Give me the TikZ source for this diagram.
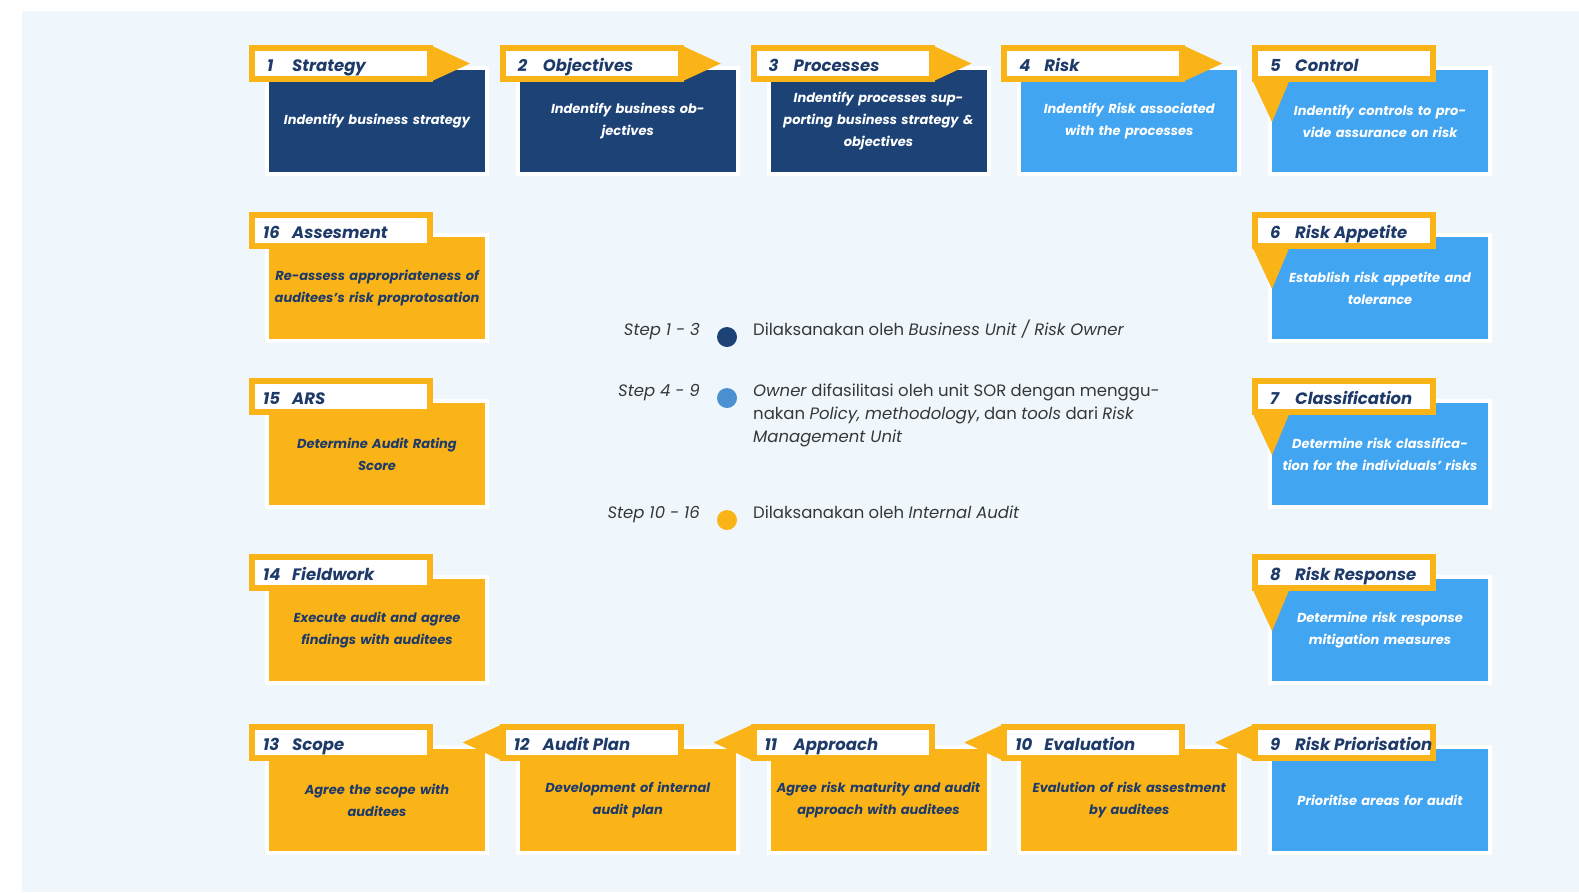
\documentclass[tikz,border=0pt]{standalone}
\usepackage{fontspec}
\setmainfont{Poppins}
\definecolor{pagebg}{RGB}{239,247,253}
\definecolor{boxnavy}{RGB}{28,66,118}
\definecolor{boxblue}{RGB}{66,165,241}
\definecolor{boxyellow}{RGB}{251,180,24}
\definecolor{inknavy}{RGB}{30,58,105}
\definecolor{dotblue}{RGB}{75,145,209}
\definecolor{inkgray}{RGB}{55,55,55}

% description box of a step: #1 id, #2 left, #3 top, #4 fill, #5 text colour, #6 text
\newcommand{\stepbody}[6]{%
  \node[cardbox, fill=#4, text=#5] (c#1) at (#2+108, #3+51) {#6};
}
% title tab of a step: #1 id, #2 left, #3 top, #4 number, #5 title, #6 number offset
\newcommand{\steptab}[6]{%
  \node[tabbox] (t#1) at (#2+72, #3-6.5) {};
  \node[tabtext, anchor=base west] (n#1) at (#2+#6, #3+1) {#4};
  \node[tabtext, anchor=base west] (w#1) at (#2+23, #3+1) {#5};
}
% pointers attached to a tab
\newcommand{\pointright}[2]{\fill[boxyellow] (#1+161,#2-25) -- (#1+201,#2-6.5) -- (#1+161,#2+12) -- cycle;}
\newcommand{\pointleft}[2]{\fill[boxyellow] (#1-17,#2-25) -- (#1-57,#2-6.5) -- (#1-17,#2+12) -- cycle;}
\newcommand{\pointdown}[2]{\fill[boxyellow] (#1-20,#2+9) -- (#1+18,#2+9) -- (#1,#2+52) -- cycle;}

\begin{document}
\begin{tikzpicture}[x=1pt,y=-1pt,
  cardbox/.style={draw=white, line width=4pt, minimum width=220pt, minimum height=106pt,
    inner sep=0pt, text width=210pt, align=center,
    font=\fontsize{13}{22}\selectfont\bfseries\itshape},
  tabbox/.style={fill=white, draw=boxyellow, line width=6pt, minimum width=178pt,
    minimum height=31pt, inner sep=0pt},
  tabtext/.style={inner sep=0pt, text=inknavy, font=\fontsize{16.5}{20}\selectfont\bfseries\itshape},
  legstep/.style={inner sep=0pt, anchor=base east, text=inkgray, font=\fontsize{16.5}{23}\selectfont\itshape},
  legtext/.style={inner sep=0pt, anchor=base west, text=inkgray, font=\fontsize{16.5}{23}\selectfont},
  legdot/.style={circle, inner sep=0pt, minimum size=20pt}]

\useasboundingbox (0,0) rectangle (1579,892);
\fill[white] (0,0) rectangle (1579,892);
\fill[pagebg] (22,11) rectangle (1579,892);

% description boxes
\stepbody{1}{269}{70}{boxnavy}{white}{Indentify business strategy}
\stepbody{2}{519.75}{70}{boxnavy}{white}{Indentify business ob-\\jectives}
\stepbody{3}{770.5}{70}{boxnavy}{white}{Indentify processes sup-\\porting business strategy \&\\objectives}
\stepbody{4}{1021.25}{70}{boxblue}{white}{Indentify Risk associated\\with the processes}
\stepbody{5}{1272}{70}{boxblue}{white}{Indentify controls to pro-\\vide assurance on risk}
\stepbody{6}{1272}{237}{boxblue}{white}{Establish risk appetite and\\tolerance}
\stepbody{7}{1272}{403}{boxblue}{white}{Determine risk classifica-\\tion for the individuals’ risks}
\stepbody{8}{1272}{579}{boxblue}{white}{Determine risk response\\mitigation measures}
\stepbody{9}{1272}{749}{boxblue}{white}{Prioritise areas for audit}
\stepbody{10}{1021.25}{749}{boxyellow}{inknavy}{Evalution of risk assestment\\by auditees}
\stepbody{11}{770.5}{749}{boxyellow}{inknavy}{Agree risk maturity and audit\\approach with auditees}
\stepbody{12}{519.75}{749}{boxyellow}{inknavy}{Development of internal\\audit plan}
\stepbody{13}{269}{749}{boxyellow}{inknavy}{Agree the scope with\\auditees}
\stepbody{14}{269}{579}{boxyellow}{inknavy}{Execute audit and agree\\findings with auditees}
\stepbody{15}{269}{403}{boxyellow}{inknavy}{Determine Audit Rating\\Score}
\stepbody{16}{269}{237}{boxyellow}{inknavy}{Re-assess appropriateness of\\auditees's risk proprotosation}

% pointers: right along the top, down the right side, left along the bottom
\pointright{269}{70}
\pointright{519.75}{70}
\pointright{770.5}{70}
\pointright{1021.25}{70}
\pointdown{1272}{70}
\pointdown{1272}{237}
\pointdown{1272}{403}
\pointdown{1272}{579}
\pointleft{1272}{749}
\pointleft{1021.25}{749}
\pointleft{770.5}{749}
\pointleft{519.75}{749}

% title tabs
\steptab{1}{269}{70}{1}{Strategy}{-2}
\steptab{2}{519.75}{70}{2}{Objectives}{-2}
\steptab{3}{770.5}{70}{3}{Processes}{-2}
\steptab{4}{1021.25}{70}{4}{Risk}{-2}
\steptab{5}{1272}{70}{5}{Control}{-2}
\steptab{6}{1272}{237}{6}{Risk Appetite}{-2}
\steptab{7}{1272}{403}{7}{Classification}{-2}
\steptab{8}{1272}{579}{8}{Risk Response}{-2}
\steptab{9}{1272}{749}{9}{Risk Priorisation}{-2}
\steptab{10}{1021.25}{749}{10}{Evaluation}{-6}
\steptab{11}{770.5}{749}{11}{Approach}{-6}
\steptab{12}{519.75}{749}{12}{Audit Plan}{-6}
\steptab{13}{269}{749}{13}{Scope}{-6}
\steptab{14}{269}{579}{14}{Fieldwork}{-6}
\steptab{15}{269}{403}{15}{ARS}{-6}
\steptab{16}{269}{237}{16}{Assesment}{-6}

% legend
\node[legstep] (s1) at (700,335) {Step 1 - 3};
\node[legdot, fill=boxnavy] (d1) at (727,337) {};
\node[legtext] (l1) at (753,335) {Dilaksanakan oleh \textit{Business Unit / Risk Owner}};

\node[legstep] (s2) at (700,396) {Step 4 - 9};
\node[legdot, fill=dotblue] (d2) at (727,398) {};
\node[legtext] (l2a) at (753,396) {\textit{Owner} difasilitasi oleh unit SOR dengan menggu-};
\node[legtext] (l2b) at (753,419) {nakan \textit{Policy, methodology}, dan \textit{tools} dari \textit{Risk}};
\node[legtext] (l2c) at (753,442) {\textit{Management Unit}};

\node[legstep] (s3) at (700,518) {Step 10 - 16};
\node[legdot, fill=boxyellow] (d3) at (727,520) {};
\node[legtext] (l3) at (753,518) {Dilaksanakan oleh \textit{Internal Audit}};
\end{tikzpicture}
\end{document}
